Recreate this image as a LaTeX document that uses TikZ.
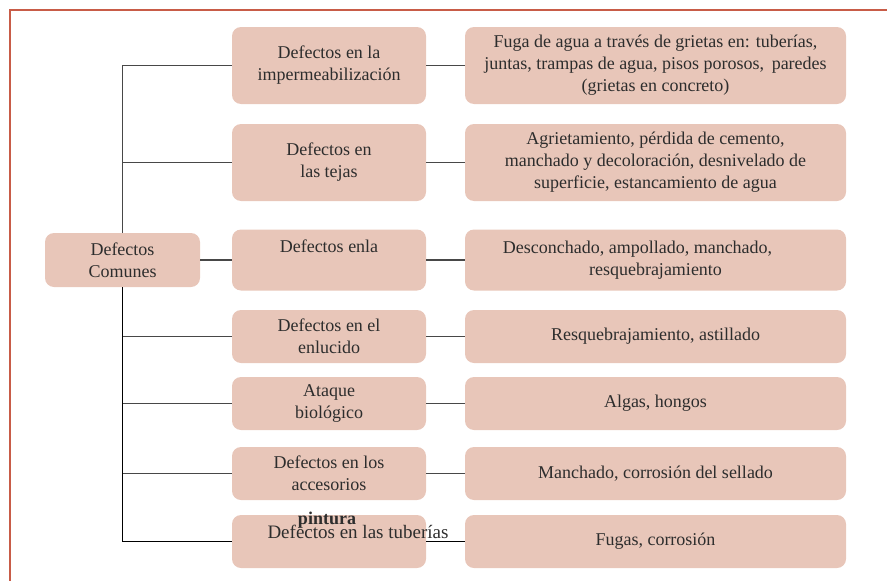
\documentclass[tikz,border=0pt]{standalone}
\usepackage{fontspec}
\setmainfont{Liberation Serif}
\usepackage{tikz}
\definecolor{boxfill}{RGB}{232,198,185}
\definecolor{framered}{RGB}{200,92,72}
\definecolor{linegray}{RGB}{72,72,72}
\definecolor{textgray}{RGB}{45,45,45}

\begin{document}
\begin{tikzpicture}[x=1pt, y=-1pt,
    defbox/.style={fill=boxfill, rounded corners=9pt, inner sep=0pt, align=center,
      text=textgray, font=\fontsize{18}{22}\selectfont},
    midbox/.style={defbox, minimum width=194pt},
    effbox/.style={defbox, minimum width=381pt},
    loose/.style={text=textgray, inner sep=0pt, font=\fontsize{19}{22}\selectfont},
    link/.style={draw=linegray, line width=1.8pt}]
      \useasboundingbox (0,0) rectangle (887,581);
      % frame
      \draw [framered, line width=1.8pt] (10,581) -- (10,10) -- (887,10);
      % root
      \node [defbox, minimum width=155pt, minimum height=54pt] (root) at (122.5,260) {Defectos\\Comunes};
      % middle column
      \node [midbox, minimum height=77pt] (imper) at (329,65.5) {Defectos en la\\impermeabilización};
      \node [midbox, minimum height=77pt] (tejas) at (329,162.5) {Defectos en\\las tejas};
      \node [midbox, minimum height=61pt] (pint) at (329,260) {Defectos enla\\\strut};
      \node [midbox, minimum height=53pt] (enluc) at (329,336.5) {Defectos en el\\enlucido};
      \node [midbox, minimum height=53pt] (biol) at (329,403.5) {Ataque\\biológico};
      \node [midbox, minimum height=53pt] (acces) at (329,473.5) {Defectos en los\\accesorios};
      \node [midbox, minimum height=53pt] (tuber) at (329,541.5) {};
      % right column
      \node [effbox, minimum height=77pt] (imperE) at (655.5,65.5) {Fuga de agua a través de grietas en: tuberías,\\juntas, trampas de agua, pisos porosos,\, paredes\\(grietas en concreto)};
      \node [effbox, minimum height=77pt] (tejasE) at (655.5,162.5) {Agrietamiento, pérdida de cemento,\\manchado y decoloración, desnivelado de\\superficie, estancamiento de agua};
      \node [effbox, minimum height=61pt] (pintE) at (655.5,260) {Desconchado, ampollado, manchado,\hspace*{36pt}\\resquebrajamiento};
      \node [effbox, minimum height=53pt] (enlucE) at (655.5,336.5) {Resquebrajamiento, astillado};
      \node [effbox, minimum height=53pt] (biolE) at (655.5,403.5) {Algas, hongos};
      \node [effbox, minimum height=53pt] (accesE) at (655.5,473.5) {Manchado, corrosión del sellado};
      \node [effbox, minimum height=53pt] (tuberE) at (655.5,541.5) {Fugas, corrosión};
      % connectors
      \draw [link] (root.north) |- (imper.west);
      \draw [link] (root.north) |- (tejas.west);
      \draw [link] (root.east) -- (pint.west);
      \draw [link] (root.south) |- (enluc.west);
      \draw [link] (root.south) |- (biol.west);
      \draw [link] (root.south) |- (acces.west);
      \draw [link, black] (root.south) |- (tuber.west);
      \draw [link] (imper.east) -- (imperE.west);
      \draw [link] (tejas.east) -- (tejasE.west);
      \draw [link] (pint.east) -- (pintE.west);
      \draw [link] (enluc.east) -- (enlucE.west);
      \draw [link] (biol.east) -- (biolE.west);
      \draw [link] (acces.east) -- (accesE.west);
      \draw [link, black] (tuber.east) -- (tuberE.west);
      % stray labels
      \node [loose, font=\fontsize{18}{22}\selectfont\bfseries] (pintLbl) at (327,520) {pintura};
      \node [loose] (tuberLbl) at (358,532) {Defectos en las tuberías};
    \end{tikzpicture}
\end{document}
